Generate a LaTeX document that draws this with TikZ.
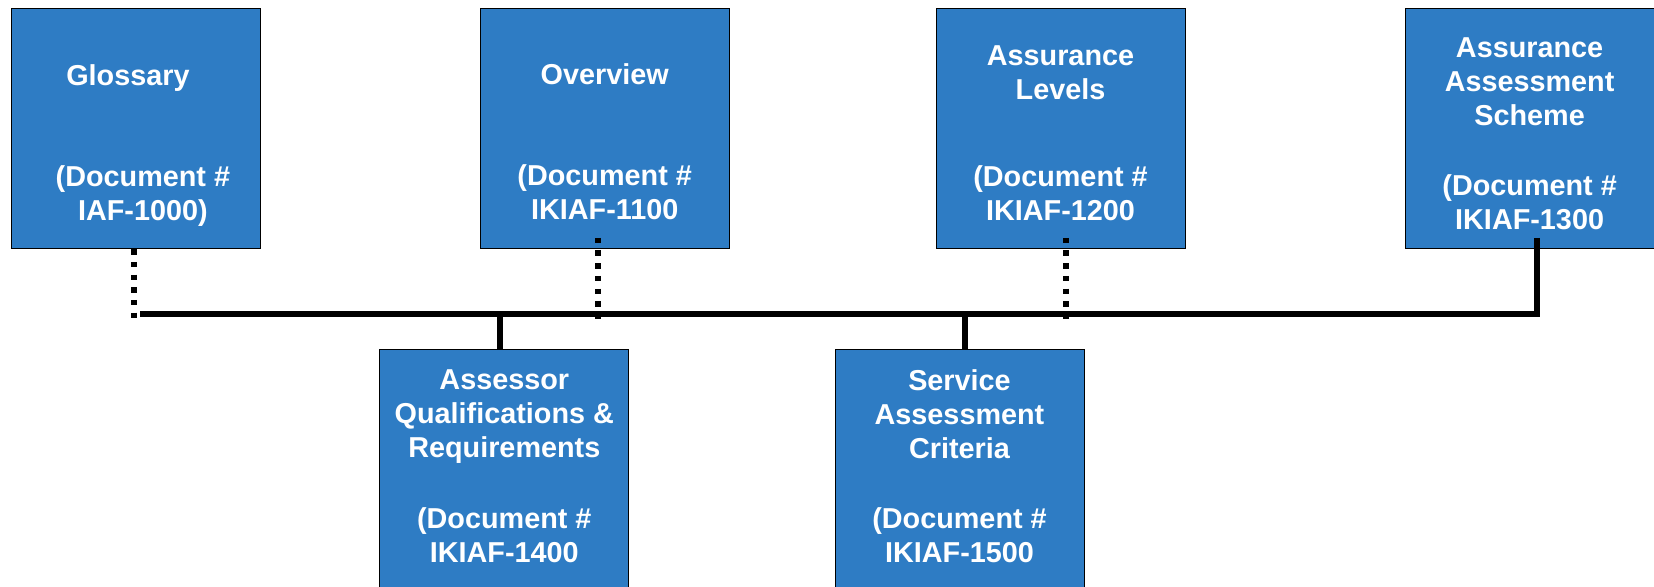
\documentclass[tikz,border=0pt]{standalone}
\usepackage{fontspec}
\setmainfont{Liberation Sans}
\usepackage{xcolor}
\usetikzlibrary{positioning}
\definecolor{boxblue}{RGB}{46,124,196}

\begin{document}
\begin{tikzpicture}[x=0.5pt,y=-0.5pt]
  \tikzset{ docbox/.style={rectangle,draw=black,line width=0.5pt,fill=boxblue,inner sep=0pt,minimum width=124.5pt,minimum height=120.2pt},
    lbl/.style={text=white,font=\bfseries\fontsize{14.4}{17}\selectfont,align=center,inner sep=0pt},
    link/.style={line width=3pt},
    dotlink/.style={line width=3pt,dash pattern=on 2.7pt off 3.65pt},
  }
  \useasboundingbox (0,0) rectangle (1654,587);

  % upper row
  \node[docbox] (g) at (135.9,128.5) {};
  \node[docbox] (o) at (604.7,128.5) {};
  \node[docbox] (l) at (1060.5,128.5) {};
  \node[docbox] (a) at (1529.6,128.5) {};
  % lower row
  \node[docbox] (q) at (504.3,469.5) {};
  \node[docbox] (s) at (959.5,469.5) {};

  \node[lbl, below=28pt of g.north] (gt) {Glossary\hspace*{8pt}\\[33.5pt]\hspace*{7pt}(Document \#\\\hspace*{7pt}IAF-1000)};
  \node[lbl, below=27.6pt of o.north] (ot) {Overview\\[33.5pt](Document \#\\IKIAF-1100};
  \node[lbl, below=18.9pt of l.north] (lt) {Assurance\\Levels\\[26.5pt](Document \#\\IKIAF-1200};
  \node[lbl, below=14.6pt of a.north] (at) {Assurance\\Assessment\\Scheme\\[18.2pt](Document \#\\IKIAF-1300};
  \node[lbl, below=10.4pt of q.north] (qt) {Assessor\\Qualifications \&\\Requirements\\[18.5pt](Document \#\\IKIAF-1400};
  \node[lbl, below=10.4pt of s.north] (st) {Service\\Assessment\\Criteria\\[18pt](Document \#\\IKIAF-1500};

  % the bus between the boxes
  \coordinate (bus) at (140,314.5);
  \draw[link] ([xshift=3.55pt,yshift=5.7pt]a.south) |- (bus);
  \draw[link] ([xshift=-2pt]q.north) -- ([xshift=-2pt]q.north |- bus);
  \draw[link] ([xshift=2.6pt]s.north) -- ([xshift=2.6pt]s.north |- bus);

  \draw[dotlink] ([xshift=-0.8pt]g.south) -- ([xshift=-0.8pt,yshift=-2.2pt]g.south |- bus);
  \draw[dotlink] ([xshift=-3.2pt,yshift=5.7pt]o.south) -- ([xshift=-3.2pt,yshift=-2.2pt]o.south |- bus);
  \draw[dotlink] ([xshift=2.6pt,yshift=5.7pt]l.south) -- ([xshift=2.6pt,yshift=-2.2pt]l.south |- bus);
\end{tikzpicture}
\end{document}
